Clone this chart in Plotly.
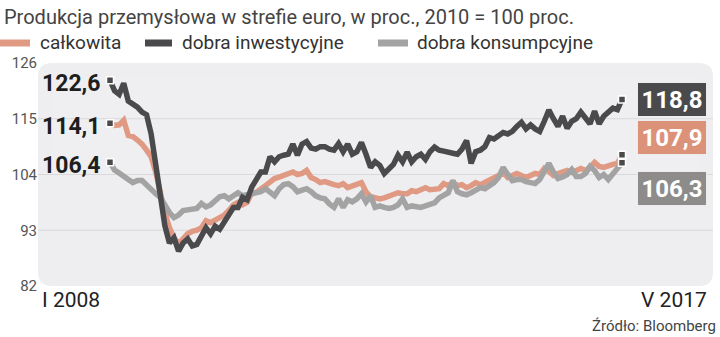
import plotly.graph_objects as go

# Monthly data, I 2008 .. V 2017 (113 months), 2010 = 100
months = list(range(113))
x_labels = ["I 2008", "V 2017"]

calkowita = [
    114.1, 113.7, 113.8, 114.7, 111.7, 111.5, 110.8, 110.0, 108.8, 107.5,
    104.5, 100.0, 96.5, 93.5, 91.5, 90.3, 91.5, 92.3, 92.8, 93.0,
    93.5, 94.9, 94.5, 95.0, 95.2, 96.0, 96.9, 98.0, 98.5, 98.0,
    98.5, 100.4, 100.5, 101.0, 101.8, 102.5, 103.2, 103.5, 103.8, 104.2,
    104.5, 104.0, 104.2, 104.8, 103.4, 103.0, 102.4, 102.6, 102.2, 102.0,
    101.8, 102.2, 101.4, 101.8, 102.0, 102.4, 100.6, 99.6, 99.4, 99.2,
    99.4, 99.8, 100.0, 100.4, 100.2, 100.2, 100.8, 100.6, 101.0, 101.4,
    101.0, 101.2, 101.2, 102.2, 101.8, 102.4, 101.8, 102.0, 101.4, 101.8,
    102.4, 102.0, 102.4, 102.8, 103.4, 103.8, 104.4, 103.4, 103.8, 104.2,
    103.8, 103.4, 103.8, 104.2, 104.0, 105.2, 104.6, 103.8, 104.2, 104.6,
    104.8, 104.4, 104.8, 105.2, 104.8, 105.4, 106.4, 105.6, 105.4, 105.8,
    106.0, 106.2, 107.9,
]

inwestycyjne = [
    122.6, 120.5, 119.8, 122.0, 118.5, 118.0, 117.3, 116.3, 115.8, 112.0,
    106.2, 99.8, 93.9, 90.5, 91.5, 88.9, 90.5, 91.3, 89.9, 90.2,
    92.0, 93.5, 92.3, 93.8, 93.2, 94.5, 96.0, 97.5, 97.5, 99.5,
    99.0, 101.5, 103.0, 104.5, 104.5, 107.5, 106.5, 107.5, 107.8, 108.0,
    110.0, 107.8, 110.0, 110.5, 109.2, 109.0, 109.5, 109.5, 109.0, 108.8,
    110.1, 108.5, 110.0, 108.0, 108.5, 110.3, 108.0, 105.4, 106.5, 105.8,
    104.2, 105.0, 106.0, 107.8, 106.5, 108.4, 106.5, 107.5, 108.0, 107.0,
    108.5, 109.4, 108.8, 108.6, 108.5, 108.2, 108.0, 109.0, 110.7, 106.2,
    108.5, 108.8, 109.5, 111.3, 111.0, 111.5, 112.3, 112.0, 112.5, 113.5,
    114.3, 113.0, 113.8, 113.0, 112.5, 114.5, 116.7, 115.0, 113.5, 115.5,
    113.1, 114.5, 115.0, 116.3, 115.0, 114.0, 116.5, 114.0, 115.5, 116.5,
    117.1, 116.8, 118.8,
]

konsumpcyjne = [
    106.4, 104.9, 104.3, 103.8, 103.0, 102.4, 102.8, 102.8, 101.8, 101.2,
    100.2, 99.5, 97.8, 96.5, 95.5, 96.0, 96.9, 97.0, 97.3, 97.3,
    98.3, 97.6, 98.0, 98.8, 99.6, 99.8, 99.2, 99.8, 100.4, 99.8,
    100.0, 100.4, 100.4, 100.6, 101.2, 100.4, 99.8, 101.2, 102.0, 102.2,
    101.6, 100.6, 100.8, 101.2, 100.6, 99.8, 99.4, 99.2, 98.2, 97.5,
    99.2, 97.5, 99.0, 98.6, 99.2, 100.2, 98.6, 99.8, 97.5, 97.8,
    97.5, 97.3, 97.5, 98.0, 99.2, 97.5, 97.8, 97.6, 97.5, 97.8,
    98.0, 98.4, 99.4, 99.8, 100.4, 102.8, 100.6, 100.2, 100.0, 100.4,
    100.8, 101.4, 101.2, 101.8, 102.4, 103.4, 105.4, 104.0, 102.8, 103.0,
    103.0, 102.6, 102.4, 102.2, 103.0, 104.5, 106.2, 104.5, 103.2, 103.5,
    104.0, 105.0, 103.6, 103.6, 104.2, 105.6, 104.8, 103.4, 104.0, 103.0,
    104.0, 105.0, 106.3,
]

y_ticks = [82, 93, 104, 115, 126]
grid_vals = [93, 104, 115]

names = ["całkowita", "dobra inwestycyjne", "dobra konsumpcyjne"]
line_colors = ["#e09a84", "#4a4a4c", "#a3a3a3"]
box_colors = ["#dc9179", "#4a4a4c", "#8d8c8a"]

W, H = 720, 337
L, R, T, B = 38, 7, 63, 51
PW, PH = W - L - R, H - T - B


def pxx(x):
    return (x - L) / PW


def pxy(y):
    return (H - B - y) / PH


def fmt(v):
    return f"{v:.1f}".replace(".", ",")


fig = go.Figure()

series = [calkowita, inwestycyjne, konsumpcyjne]
order = [0, 2, 1]
for k in order:
    fig.add_trace(go.Scatter(
        x=months, y=series[k], mode="lines", name=names[k],
        line=dict(color=line_colors[k], width=5.5), showlegend=False,
        hoverinfo="skip",
    ))

# end / start markers
for k in order:
    fig.add_trace(go.Scatter(
        x=[months[0], months[-1]], y=[series[k][0], series[k][-1]],
        mode="markers", showlegend=False, hoverinfo="skip",
        marker=dict(symbol="square", size=7, color="#4a4a4a",
                    line=dict(color="white", width=1.5)),
    ))

shapes = []
# rounded plot background with a soft vertical gradient
rx, ry = 14 / PW, 14 / PH
path = (f"M {rx},0 L {1-rx},0 Q 1,0 1,{ry} L 1,{1-ry} Q 1,1 {1-rx},1 "
        f"L {rx},1 Q 0,1 0,{1-ry} L 0,{ry} Q 0,0 {rx},0 Z")
shapes.append(dict(type="path", path=path, xref="paper", yref="paper",
                   fillcolor="#eeeef0", line=dict(width=0), layer="below"))
nb = 8
for i in range(nb):
    y0 = 1 - (i + 1) * 0.5 / nb
    shapes.append(dict(type="rect", xref="paper", yref="paper",
                       x0=rx, x1=1 - rx, y0=y0, y1=1 - ry if i == 0 else y0 + 0.5 / nb,
                       fillcolor="rgba(255,255,255,0.09)", line=dict(width=0),
                       layer="below"))
for g in grid_vals:
    shapes.append(dict(type="line", xref="paper", yref="y", x0=0, x1=1,
                       y0=g, y1=g, line=dict(color="#d9d9db", width=1),
                       layer="below"))

# legend swatches
leg_sw = [(0, 30), (145, 172), (378, 408)]
leg_tx = [38, 180, 415]
annotations = []
for k in range(3):
    shapes.append(dict(type="line", xref="paper", yref="paper",
                       x0=pxx(leg_sw[k][0]), x1=pxx(leg_sw[k][1]),
                       y0=pxy(43), y1=pxy(43),
                       line=dict(color=line_colors[k], width=7)))
    annotations.append(dict(xref="paper", yref="paper", x=pxx(leg_tx[k]),
                            y=pxy(43), xanchor="left", yanchor="middle",
                            text=names[k], showarrow=False,
                            font=dict(family="Roboto", size=19, color="#333333")))

annotations.append(dict(xref="paper", yref="paper", x=pxx(2), y=pxy(17),
                        xanchor="left", yanchor="middle",
                        text="Produkcja przemysłowa w strefie euro, w proc., 2010 = 100 proc.",
                        showarrow=False,
                        font=dict(family="Roboto", size=20, color="#444444")))

# start labels
for k in range(3):
    annotations.append(dict(xref="x", yref="y", x=months[0], y=series[k][0],
                            xanchor="right", yanchor="middle", xshift=-8, yshift=-3,
                            text=f"<b>{fmt(series[k][0])}</b>", showarrow=False,
                            font=dict(family="Roboto", size=23, color="#1e1e1e")))

# end label boxes
box_cy = {1: 99.5, 0: 137, 2: 188.5}
for k in [1, 0, 2]:
    annotations.append(dict(xref="paper", yref="paper", x=pxx(672), y=pxy(box_cy[k]),
                            xanchor="center", yanchor="middle",
                            text=f"<b>{fmt(series[k][-1])}</b>", showarrow=False,
                            width=66, height=31, borderpad=1,
                            bgcolor=box_colors[k], bordercolor="#ececec", borderwidth=1,
                            font=dict(family="Roboto", size=24, color="white")))

# x labels
annotations.append(dict(xref="paper", yref="paper", x=pxx(40), y=pxy(300),
                        xanchor="left", yanchor="middle", text=x_labels[0],
                        showarrow=False,
                        font=dict(family="Roboto", size=21, color="#222222")))
annotations.append(dict(xref="paper", yref="paper", x=pxx(709), y=pxy(300),
                        xanchor="right", yanchor="middle", text=x_labels[1],
                        showarrow=False,
                        font=dict(family="Roboto", size=21, color="#222222")))
annotations.append(dict(xref="paper", yref="paper", x=pxx(718), y=pxy(326),
                        xanchor="right", yanchor="middle", text="Źródło: Bloomberg",
                        showarrow=False,
                        font=dict(family="Roboto", size=15, color="#444444")))

x0_px, x1_px = 110, 622
step = (x1_px - x0_px) / (len(months) - 1)
xr = [months[0] - (x0_px - L) / step, months[-1] + (W - R - x1_px) / step]

fig.update_layout(
    width=W, height=H,
    margin=dict(l=L, r=R, t=T, b=B),
    paper_bgcolor="white", plot_bgcolor="rgba(0,0,0,0)",
    shapes=shapes, annotations=annotations,
    xaxis=dict(range=xr, visible=False, fixedrange=True),
    yaxis=dict(range=[82, 126], tickvals=y_ticks, showgrid=False, zeroline=False,
               ticks="", tickfont=dict(family="Roboto", size=15, color="#555555"),
               fixedrange=True),
    showlegend=False,
)

fig.write_html("out.html")
